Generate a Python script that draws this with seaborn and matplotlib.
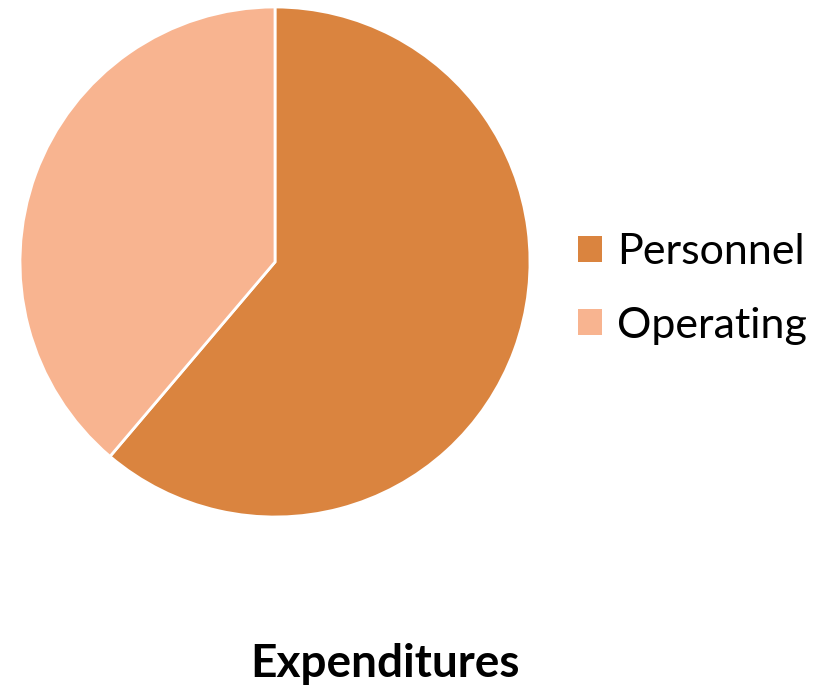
import matplotlib
matplotlib.use("Agg")
import matplotlib.pyplot as plt
from matplotlib.patches import Patch
import seaborn as sns

# Data
labels = ["Personnel", "Operating"]
shares = [61.2, 38.8]
colors = ["#DA843F", "#F8B490"]
title = "Expenditures"

sns.set_theme(style="white")
plt.rcParams['font.family'] = ['Lato', 'DejaVu Sans']

fig = plt.figure(figsize=(8.29, 6.87), dpi=100)
ax = fig.add_axes([20 / 829, 170 / 687, 510 / 829, 510 / 687])

ax.pie(shares, colors=colors, startangle=90, counterclock=False, radius=1.0,
       wedgeprops=dict(edgecolor="white", linewidth=2))
ax.set_xlim(-1.0, 1.0)
ax.set_ylim(-1.0, 1.0)
ax.set_aspect("equal")
ax.axis("off")

handles = [Patch(facecolor=c, edgecolor="none", label=l) for c, l in zip(colors, labels)]
leg = fig.legend(handles=handles, loc="center left", bbox_to_anchor=(578 / 829, 1 - 289 / 687),
                 frameon=False, fontsize=31, handlelength=0.55, handleheight=0.55,
                 handletextpad=0.35, labelspacing=0.82, borderpad=0, borderaxespad=0)
for t in leg.get_texts():
    t.set_color("black")

fig.text(385 / 829, 1 - 664 / 687, title, ha="center", va="center",
         fontsize=33, fontweight="bold", color="black")

plt.savefig("out.png", dpi=100)
plt.close()
